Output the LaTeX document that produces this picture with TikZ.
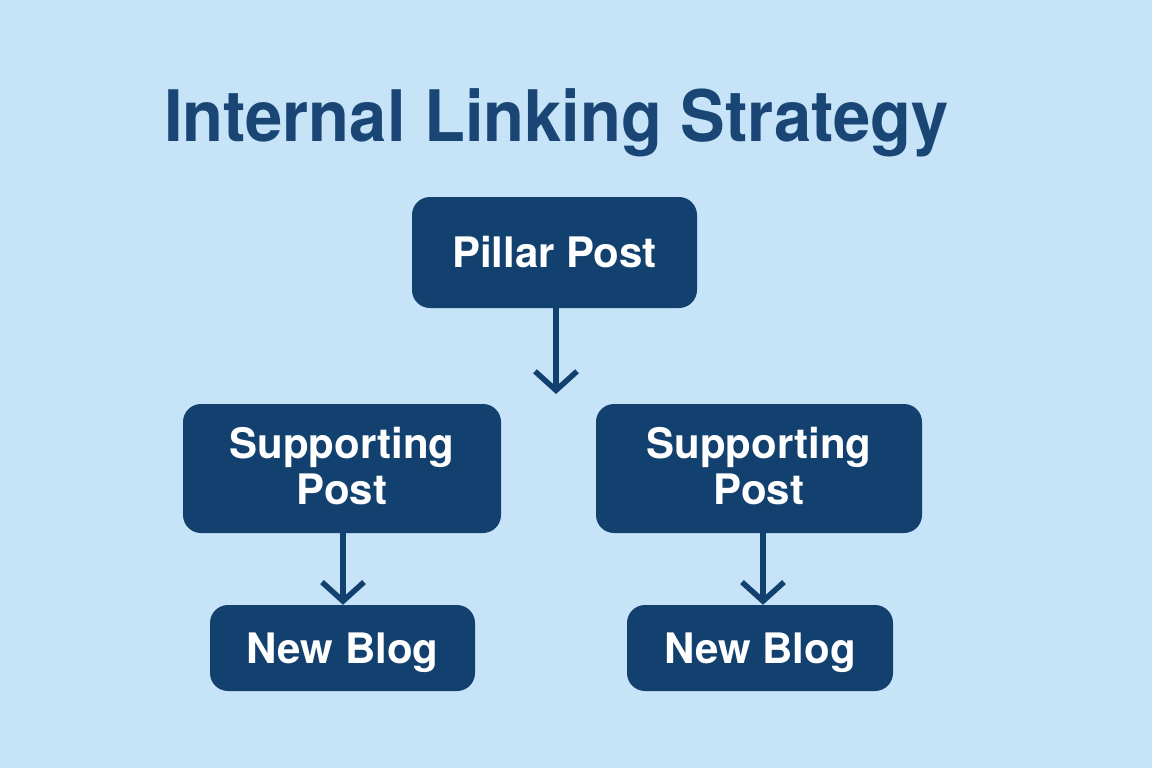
\documentclass[tikz,border=0pt]{standalone}
\usepackage{fontspec}
\setmainfont{TeX Gyre Heros}
\newfontfamily\titlefont[FakeStretch=0.943]{TeX Gyre Heros}
\usetikzlibrary{arrows.meta}
\definecolor{bg}{HTML}{C6E3F7}
\definecolor{boxc}{HTML}{13416F}
\definecolor{titlec}{HTML}{1A4676}
\tikzset{
  card/.style={fill=boxc, rounded corners=18pt, text=white, font=\bfseries\fontsize{42}{46}\selectfont, align=center, inner sep=0pt},
  oneline/.style={text height=30pt, text depth=0pt},
  twoline/.style={text depth=5pt},
  link/.style={draw=boxc, line width=5.5pt, -{Straight Barb[length=19pt,width=42pt,line width=5.5pt]}}
}
\begin{document}
\begin{tikzpicture}[x=1pt,y=-1pt]
\fill[bg] (0,0) rectangle (1152,768);
\useasboundingbox (0,0) rectangle (1152,768);
\node[text=titlec, font=\titlefont\bfseries\fontsize{71}{76}\selectfont, anchor=base] (title) at (556.5,141) {Internal Linking Strategy};
\node[card, oneline, minimum width=285pt, minimum height=111pt] (pillar) at (554.5,252.5) {Pillar Post};
\node[card, twoline, minimum width=318pt, minimum height=129pt] (supl) at (342,468.5) {Supporting\\Post};
\node[card, twoline, minimum width=326pt, minimum height=129pt] (supr) at (759,468.5) {Supporting\\Post};
\node[card, oneline, minimum width=265pt, minimum height=86pt] (blogl) at (342.5,648) {New Blog};
\node[card, oneline, minimum width=266pt, minimum height=86pt] (blogr) at (760,648) {New Blog};
\coordinate (pend) at (556,394);
\draw[link] (pillar.south -| pend) -- (pend);
\draw[link] (343,533) coordinate (a1) -- (blogl.north -| a1);
\draw[link] (763,533) coordinate (a2) -- (blogr.north -| a2);
\end{tikzpicture}
\end{document}
